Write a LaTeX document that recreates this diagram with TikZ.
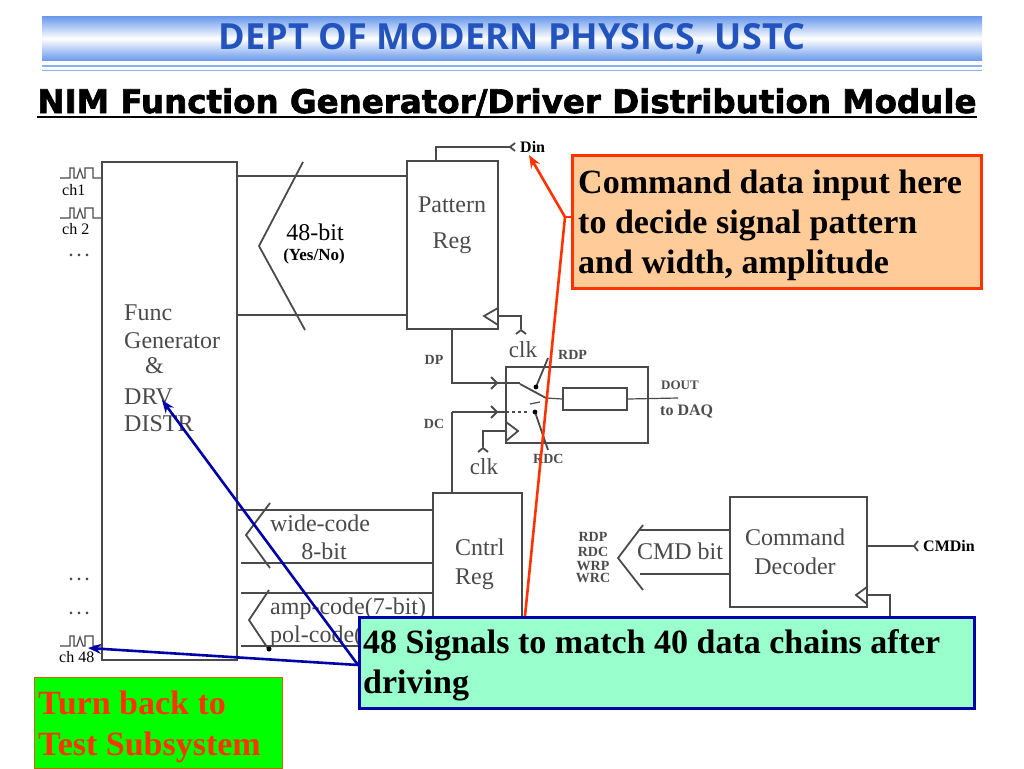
\documentclass[tikz,border=0pt]{standalone}
\usepackage{fontspec}
\setmainfont{Liberation Serif}
\newfontfamily\headfont{Open Sans}
\newfontfamily\subfont[FakeBold=2]{DejaVu Sans Bold}
\usetikzlibrary{arrows.meta,calc}
\definecolor{ink}{HTML}{4A4A4A}
\definecolor{headblue}{HTML}{6E9CEC}
\definecolor{headtext}{HTML}{2353BC}
\definecolor{orangefill}{HTML}{FFCC99}
\definecolor{redline}{HTML}{FF3300}
\definecolor{mint}{HTML}{99FFCC}
\definecolor{navy}{HTML}{0000A8}
\newcommand{\threedots}{.\kern4pt.\kern4pt.}
\tikzset{
  x=1pt,y=-1pt,
  wire/.style={draw=ink,line width=1.8pt,line join=miter},
  thinwire/.style={draw=ink,line width=1.2pt},
  boxnode/.style={draw=ink,line width=2pt,fill=white,inner sep=0pt},
  lab/.style={text=ink,inner sep=0pt,font=\fontsize{24}{24}\selectfont},
  chlab/.style={inner sep=0pt,font=\fontsize{16}{16}\selectfont,anchor=west},
  dotlab/.style={inner sep=0pt,font=\fontsize{16}{16}\selectfont\bfseries,text=ink},
  tiny/.style={text=black!70,inner sep=0pt,font=\fontsize{14}{14}\selectfont\bfseries},
  bignote/.style={inner sep=0pt,anchor=north west,font=\fontsize{34}{40}\selectfont\bfseries,align=left},
  redarrow/.style={draw=redline,line width=2.6pt,-{Stealth[length=13pt,width=10pt]}},
  bluearrow/.style={draw=navy,line width=2.6pt,-{Stealth[length=13pt,width=10pt]}},
  pulse/.pic={\draw[ink,line width=1.2pt] (0,0) -- (10,0) -- (10,-10) -- (14,-10) -- (14,0) -- (17,0) -- (20,-9) -- (23,0) -- (25,0) -- (25,-10) -- (33,-10) -- (33,0) -- (41,0);}
}
\begin{document}
\begin{tikzpicture}
\useasboundingbox (0,0) rectangle (1024,768);
\fill[white] (0,0) rectangle (1024,768);
% header
\node[minimum width=940pt,minimum height=43pt,inner sep=0pt,top color=headblue,bottom color=headblue,middle color=white,
  text=headtext,font=\fontsize{36}{36}\selectfont\headfont\bfseries] (head) at (512,38.5) {DEPT OF MODERN PHYSICS, USTC};
\draw[headblue!80,line width=1.6pt] (42,66) -- (982,66);
\draw[headblue!80,line width=1pt] (42,70) -- (982,70);
\node[inner sep=0pt,anchor=base,font=\fontsize{32.5}{33}\selectfont\subfont] (subtitle) at (507,113) {NIM Function Generator/Driver Distribution Module};
\draw[black,line width=2.4pt] (37,117) -- (977,117);

% function generator box
\node[boxnode,minimum width=135pt,minimum height=498pt] (func) at (169,411) {};
\node[lab,anchor=base west] (t1) at (124,320) {Func};
\node[lab,anchor=base west] (t2) at (124,348) {Generator};
\node[lab,anchor=base west] (t3) at (145,373) {\&};
\node[lab,anchor=base west] (t4) at (124,404) {DRV};
\node[lab,anchor=base west] (t5) at (124,431) {DISTR};

% channels
\pic at (60,178) {pulse};
\pic at (60,218) {pulse};
\pic at (60,646) {pulse};
\node[chlab] (ch1) at (62,190) {ch1};
\node[chlab] (ch2) at (62,229) {ch 2};
\node[chlab] (ch48) at (59,657) {ch 48};
\node[dotlab] (d1) at (79,255) {\threedots};
\node[dotlab] (d2) at (79,579) {\threedots};
\node[dotlab] (d3) at (79,613) {\threedots};

% pattern register
\node[boxnode,minimum width=91pt,minimum height=168pt] (pat) at (452.5,245) {};
\node[lab,anchor=center] (t6) at (452,205) {Pattern};
\node[lab,anchor=center] (t7) at (452,243) {Reg};
\draw[wire] (func.east |- 0,176) -- (pat.west |- 0,176);
\draw[wire] (func.east |- 0,315) -- (pat.west |- 0,315);
\coordinate (b1a) at (303,162); \coordinate (b1b) at (259,246); \coordinate (b1c) at (305,330);
\draw[wire] (b1a) -- (b1b) -- (b1c);
\node[inner sep=0pt,font=\fontsize{24}{24}\selectfont] (bit48) at (315,232) {48-bit};
\node[inner sep=0pt,font=\fontsize{17}{17}\selectfont\bfseries] (yesno) at (314,256) {(Yes/No)};

% Din
\coordinate (din1) at (436,161); \coordinate (din2) at (511,147);
\node[inner sep=0pt,font=\fontsize{16}{16}\selectfont\bfseries,anchor=west] (din) at (520,147) {Din};
\draw[wire] (din1) -- (din1 |- din2) -- (din2);
\draw[wire] (515,143) -- (510,147) -- (515,151);
% pattern clock
\coordinate (pc1) at (498,308); \coordinate (pc2) at (484,316); \coordinate (pc3) at (498,325);
\draw[wire] (pc1) -- (pc2) -- (pc3);
\coordinate (pc4) at (521,329);
\draw[wire] (pc2 -| pat.east) -- (pc2 -| pc4) -- (pc4);
\draw[wire] (516,334) -- (521,330) -- (526,334);
\node[inner sep=0pt,font=\fontsize{23}{23}\selectfont,text=ink] (clk1) at (523,350) {clk};

% mux box
\node[boxnode,minimum width=142pt,minimum height=76pt] (mux) at (577,405) {};
\node[boxnode,minimum width=64pt,minimum height=22pt] (inner) at (595,399) {};
\coordinate (swo) at (546,398); \coordinate (outr) at (678,398);
\draw[thinwire] (swo) -- (inner.west);
\draw[thinwire] (inner.east) -- (outr);
\node[tiny,anchor=west,font=\fontsize{13}{13}\selectfont\bfseries] (dout) at (661,385) {DOUT};
\node[tiny,anchor=west,font=\fontsize{16}{16}\selectfont\bfseries] (todaq) at (660,411) {to DAQ};
\node[tiny,anchor=west] (rdp) at (558,355) {RDP};
\node[tiny,anchor=west] (rdc) at (533,459) {RDC};
\node[tiny] (dp) at (434,360) {DP};
\node[tiny] (dc) at (434,424) {DC};
% switch
\draw[wire] (520,384) -- (swo);
\draw[wire] (548,358) -- (536,387);
\fill[black] (536,387) circle (2.4pt);
\draw[thinwire,dashed] (506,412) -- (527,412);
\draw[wire] (535,412) -- (548,450);
\fill[black] (535,412) circle (2.4pt);
\draw[thinwire] (530,404) -- (540,402);
% inputs
\draw[wire] (pat.south -| 452,0) -- (452,383) -- (520,383);
\draw[wire] (491,377) -- (497,383) -- (491,389);
\draw[wire] (491,406) -- (497,412) -- (491,418);
\coordinate (mc1) at (506,422); \coordinate (mc2) at (518,431); \coordinate (mc3) at (506,441);
\draw[wire] (mc1) -- (mc2) -- (mc3);
\coordinate (mc4) at (483,447);
\draw[wire] (mc2 -| mux.west) -- (mc2 -| mc4) -- (mc4);
\draw[wire] (478,452) -- (483,448) -- (488,452);
\node[inner sep=0pt,font=\fontsize{23}{23}\selectfont,text=ink] (clk2) at (484,467) {clk};

% control register
\node[boxnode,minimum width=89pt,minimum height=157pt] (ctrl) at (477.5,571.5) {};
\draw[wire] (452,412) -- (506,412);
\draw[wire] (452,412) -- (ctrl.north -| 452,0);
\node[lab,anchor=base west] (t8) at (455,555) {Cntrl};
\node[lab,anchor=base west] (t9) at (455,584) {Reg};
\draw[thinwire] (237,510) -- (ctrl.west |- 0,510);
\draw[wire] (241,563) -- (ctrl.west |- 0,563);
\draw[wire] (241,593) -- (ctrl.west |- 0,593);
\draw[wire] (241,646) -- (ctrl.west |- 0,646);
\coordinate (b2a) at (270,503); \coordinate (b2b) at (246,535); \coordinate (b2c) at (270,568);
\draw[wire] (b2a) -- (b2b) -- (b2c);
\coordinate (b3a) at (269,590); \coordinate (b3b) at (249,620); \coordinate (b3c) at (269,650);
\draw[wire] (b3a) -- (b3b) -- (b3c);
\fill[black] (269,649) circle (2.5pt);
\node[lab,anchor=center] (wc) at (320,523) {wide-code};
\node[lab,anchor=center] (eb) at (324,551) {8-bit};
\node[lab,anchor=base west] (ac) at (270,614) {amp-code(7-bit)};
\node[lab,anchor=base west] (pc) at (270,642) {pol-code(};

% command decoder
\node[boxnode,minimum width=137pt,minimum height=110pt] (dec) at (798.5,552) {};
\node[lab,anchor=center] (t10) at (795,537) {Command};
\node[lab,anchor=center] (t11) at (795,566) {Decoder};
\draw[wire] (dec.west |- 0,530) -- (640,530);
\draw[wire] (dec.west |- 0,574) -- (640,574);
\coordinate (b4a) at (643,525); \coordinate (b4b) at (618,558); \coordinate (b4c) at (643,590);
\draw[wire] (b4a) -- (b4b) -- (b4c);
\node[lab,anchor=center] (cmdb) at (680,551) {CMD bit};
\node[tiny] (r1) at (593,537) {RDP};
\node[tiny] (r2) at (593,552) {RDC};
\node[tiny] (r3) at (593,566) {WRP};
\node[tiny] (r4) at (593,578) {WRC};
\coordinate (cmde) at (915,546);
\draw[wire] (dec.east |- cmde) -- (cmde);
\draw[wire] (918,541) -- (914,546) -- (918,551);
\node[inner sep=0pt,font=\fontsize{16}{16}\selectfont\bfseries,anchor=west] (cmd) at (923,546) {CMDin};
\coordinate (dc1) at (867,587); \coordinate (dc2) at (856,595); \coordinate (dc3) at (867,604);
\draw[wire] (dc1) -- (dc2) -- (dc3);
\coordinate (dc4) at (890,616);
\draw[thinwire] (dc2 -| dec.east) -- (dc2 -| dc4) -- (dc4);

% callouts
\node[draw=redline,fill=orangefill,minimum width=409pt,minimum height=133pt,inner sep=0pt,line width=2.6pt,anchor=north west] (note1) at (571,154) {};
\node[bignote] (note1t) at (578,170) {Command data input here\\to decide signal pattern\\and width, amplitude};
\coordinate (split1) at (565,217);
\draw[redline,line width=2.6pt] (note1.west |- split1) -- (split1);
\draw[redarrow] (split1) -- (529,155);
\coordinate (red2) at (525,616);
\draw[redline,line width=2.6pt] (split1) -- (red2);
\node[draw=navy,fill=mint,minimum width=615pt,minimum height=91pt,inner sep=0pt,line width=2.6pt,anchor=north west] (note2) at (358,616) {};
\node[bignote] (note2t) at (363,629) {48 Signals to match 40 data chains after\\driving};
\coordinate (from2) at (358,665);
\draw[bluearrow] (from2) -- (162,400);
\draw[bluearrow] (from2) -- (88,648);
\node[draw=orange!80!black,fill=green,minimum width=248pt,minimum height=91pt,inner sep=0pt,line width=1pt,anchor=north west] (back) at (34,677) {};
\node[bignote,text=redline,font=\fontsize{34}{41}\selectfont\bfseries] (backt) at (38,691) {Turn back to\\Test Subsystem};
\end{tikzpicture}
\end{document}
